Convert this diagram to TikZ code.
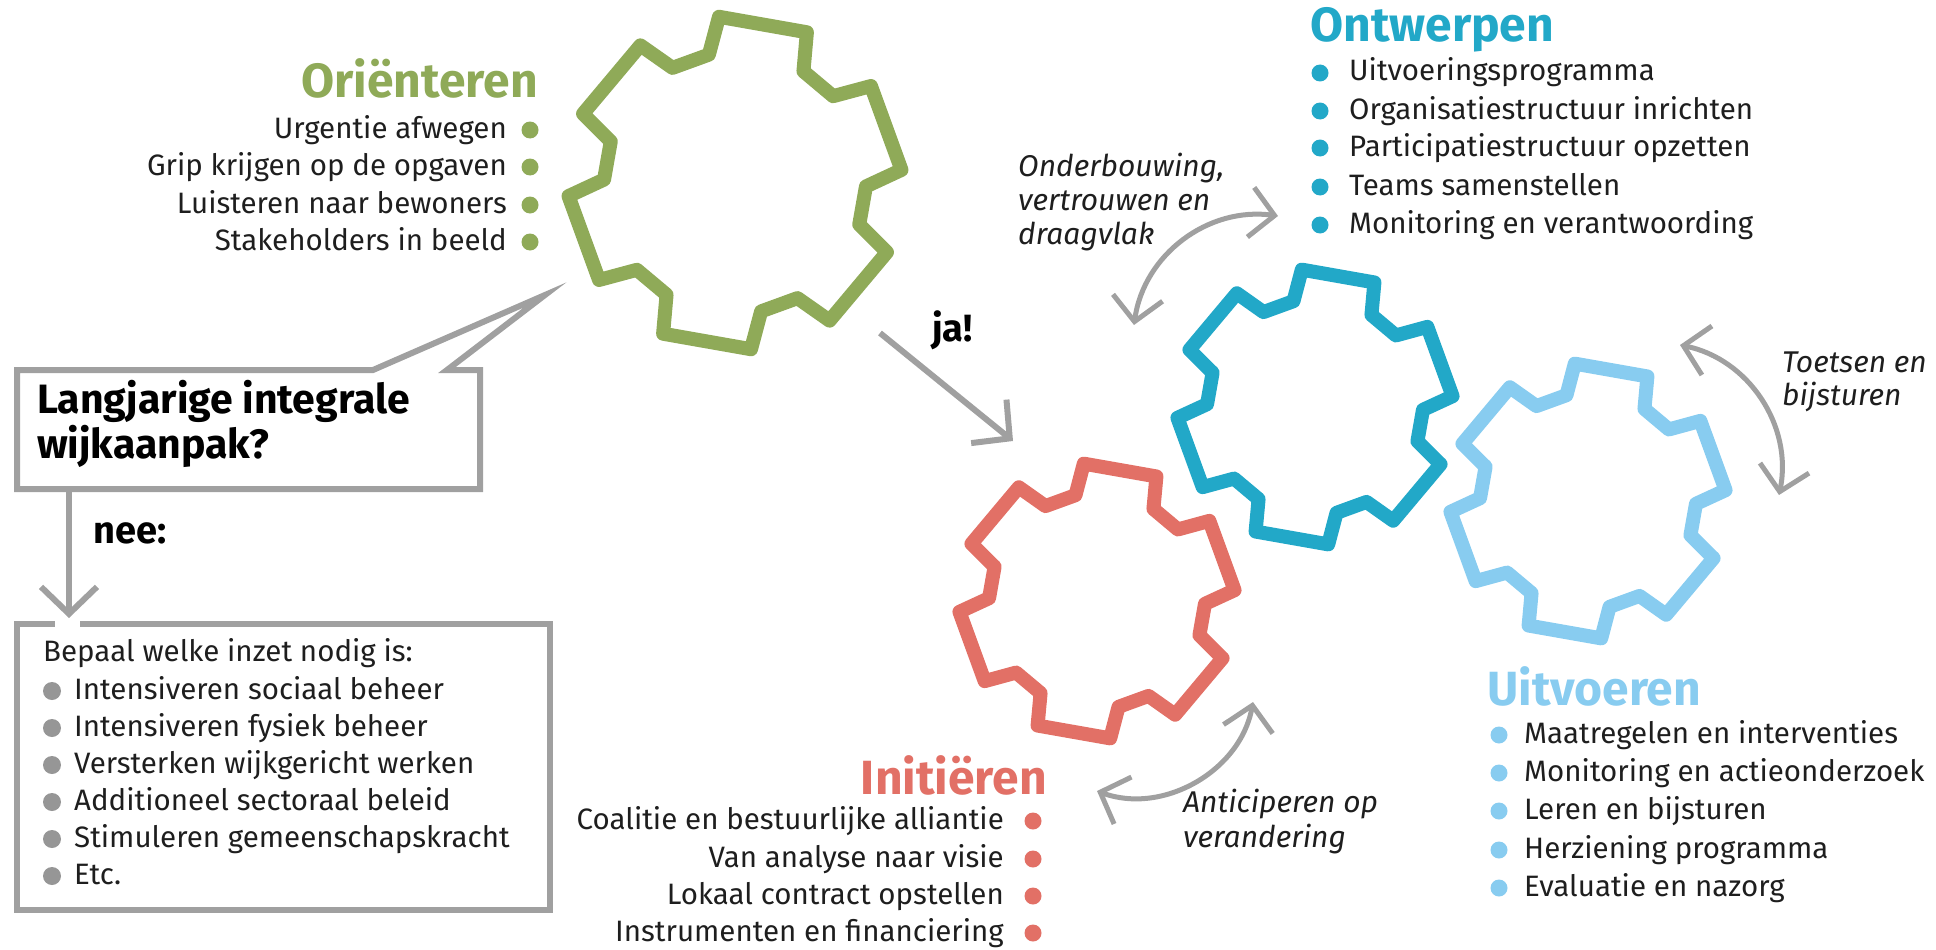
\documentclass[tikz,border=0pt]{standalone}
\usepackage{fontspec}
\setmainfont{Fira Sans}
\usetikzlibrary{calc,arrows.meta}
\definecolor{orgroen}{RGB}{143,170,88}
\definecolor{inrood}{RGB}{226,112,102}
\definecolor{ontblauw}{RGB}{34,168,200}
\definecolor{uitblauw}{RGB}{136,204,240}
\definecolor{pijlgrijs}{RGB}{160,160,160}
\definecolor{bolgrijs}{RGB}{150,150,150}
\definecolor{tekst}{RGB}{30,30,30}
\tikzset{
	tandlijn/.style={line width=14pt, line join=round},
	kader/.style={draw=pijlgrijs, line width=6pt},
	pijl/.style={draw=pijlgrijs, line width=6pt, -{Straight Barb[length=27pt,width=56pt]}},
	dubbelpijl/.style={draw=pijlgrijs, line width=5pt, {Straight Barb[length=24pt,width=50pt]}-{Straight Barb[length=24pt,width=50pt]}},
	kop/.style={inner sep=0pt, font=\fontsize{48}{52}\selectfont\bfseries},
	punt/.style={inner sep=0pt, text=tekst, font=\fontsize{29.5}{32}\selectfont},
	schuin/.style={inner sep=0pt, text=tekst, font=\fontsize{30}{32}\selectfont\itshape},
	vraag/.style={inner sep=0pt, text=black, font=\fontsize{41}{44}\selectfont\bfseries},
	vet/.style={inner sep=0pt, text=black, font=\fontsize{38}{42}\selectfont\bfseries},
}
\def\tandwiel[#1](#2)(#3:#4){\draw[#1] ($(#2)+(1.5:#4)$) \foreach \t in {40,100,...,340}{ -- ($(#2)+(\t-21.5:#4)$) -- ($(#2)+(\t-15.5:#3)$) -- ($(#2)+(\t+15.5:#3)$) -- ($(#2)+(\t+21.5:#4)$)} -- cycle;}

\begin{document}
\begin{tikzpicture}[x=1pt, y=-1pt]
	%%%%% START %%%%%
	\useasboundingbox (0,0) rectangle (1936,950);
	
	\tandwiel[tandlijn, draw=orgroen](735,183)(167:131)
	\tandwiel[tandlijn, draw=inrood](1097,601)(138:108)
	\tandwiel[tandlijn, draw=uitblauw](1588,501)(138:108)
	\tandwiel[tandlijn, draw=ontblauw](1315,407)(138:108)
	
	% orienteren
	\node[kop, text=orgroen, anchor=base east] (orikop) at (538,98) {Oriënteren};
	\node[punt, anchor=base east] (ori1) at (507,138) {Urgentie afwegen};
	\node[punt, anchor=base east] (ori2) at (507,175) {Grip krijgen op de opgaven};
	\node[punt, anchor=base east] (ori3) at (507,213) {Luisteren naar bewoners};
	\node[punt, anchor=base east] (ori4) at (507,250) {Stakeholders in beeld};
	\fill[orgroen] (530,130) circle (8.5pt);
	\fill[orgroen] (530,167) circle (8.5pt);
	\fill[orgroen] (530,205) circle (8.5pt);
	\fill[orgroen] (530,242) circle (8.5pt);
	
	% vraag
	\draw[kader] (17,370) -- (373,370) -- (545,295) -- (447,370) -- (480,370) -- (480,489) -- (17,489) -- cycle;
	\node[vraag, anchor=base west] (vraag1) at (37,413) {Langjarige integrale};
	\node[vraag, anchor=base west] (vraag2) at (37,458) {wijkaanpak?};
	
	\coordinate (neevan) at (69,489);
	\coordinate (neenaar) at (69,618);
	\draw[pijl] (neevan) -- (neenaar);
	\node[vet, anchor=base west] (nee) at (93,543) {nee:};
	
	\draw[kader] (80,624) -- (550,624) -- (550,910) -- (17,910) -- (17,624) -- (55,624);
	\node[punt, anchor=base west] (inzet) at (43,661) {Bepaal welke inzet nodig is:};
	\node[punt, anchor=base west] (inzet1) at (74,699) {Intensiveren sociaal beheer};
	\node[punt, anchor=base west] (inzet2) at (74,736) {Intensiveren fysiek beheer};
	\node[punt, anchor=base west] (inzet3) at (74,773) {Versterken wijkgericht werken};
	\node[punt, anchor=base west] (inzet4) at (74,810) {Additioneel sectoraal beleid};
	\node[punt, anchor=base west] (inzet5) at (74,847) {Stimuleren gemeenschapskracht};
	\node[punt, anchor=base west] (inzet6) at (74,884) {Etc.};
	\fill[bolgrijs] (52,691) circle (9pt);
	\fill[bolgrijs] (52,728) circle (9pt);
	\fill[bolgrijs] (52,765) circle (9pt);
	\fill[bolgrijs] (52,802) circle (9pt);
	\fill[bolgrijs] (52,839) circle (9pt);
	\fill[bolgrijs] (52,876) circle (9pt);
	
	% ja
	\coordinate (javan) at (880,333);
	\coordinate (janaar) at (1013,441);
	\draw[pijl] (javan) -- (janaar);
	\node[vet, anchor=base west] (ja) at (932,341) {ja!};
	
	% ontwerpen
	\node[kop, text=ontblauw, anchor=base west] (ontkop) at (1310,42) {Ontwerpen};
	\node[punt, anchor=base west] (ont1) at (1349,81) {Uitvoeringsprogramma};
	\node[punt, anchor=base west] (ont2) at (1349,119) {Organisatiestructuur inrichten};
	\node[punt, anchor=base west] (ont3) at (1349,156) {Participatiestructuur opzetten};
	\node[punt, anchor=base west] (ont4) at (1349,195) {Teams samenstellen};
	\node[punt, anchor=base west] (ont5) at (1349,233) {Monitoring en verantwoording};
	\fill[ontblauw] (1320,73) circle (8.5pt);
	\fill[ontblauw] (1320,111) circle (8.5pt);
	\fill[ontblauw] (1320,148) circle (8.5pt);
	\fill[ontblauw] (1320,187) circle (8.5pt);
	\fill[ontblauw] (1320,225) circle (8.5pt);
	
	% uitvoeren
	\node[kop, text=uitblauw, anchor=base west] (uitkop) at (1487,705) {Uitvoeren};
	\node[punt, anchor=base west] (uit1) at (1524,743) {Maatregelen en interventies};
	\node[punt, anchor=base west] (uit2) at (1524,781) {Monitoring en actieonderzoek};
	\node[punt, anchor=base west] (uit3) at (1524,819) {Leren en bijsturen};
	\node[punt, anchor=base west] (uit4) at (1524,858) {Herziening programma};
	\node[punt, anchor=base west] (uit5) at (1524,896) {Evaluatie en nazorg};
	\fill[uitblauw] (1499,735) circle (8.5pt);
	\fill[uitblauw] (1499,773) circle (8.5pt);
	\fill[uitblauw] (1499,811) circle (8.5pt);
	\fill[uitblauw] (1499,850) circle (8.5pt);
	\fill[uitblauw] (1499,888) circle (8.5pt);
	
	% initieren
	\node[kop, text=inrood, anchor=base east] (inikop) at (1047,794) {Initiëren};
	\node[punt, anchor=base east] (ini1) at (1004,829) {Coalitie en bestuurlijke alliantie};
	\node[punt, anchor=base east] (ini2) at (1004,867) {Van analyse naar visie};
	\node[punt, anchor=base east] (ini3) at (1004,904) {Lokaal contract opstellen};
	\node[punt, anchor=base east] (ini4) at (1004,941) {Instrumenten en financiering};
	\fill[inrood] (1033,821) circle (8.5pt);
	\fill[inrood] (1033,859) circle (8.5pt);
	\fill[inrood] (1033,896) circle (8.5pt);
	\fill[inrood] (1033,933) circle (8.5pt);
	
	% dubbele pijlen
	\coordinate (ond1) at (1134,325);
	\coordinate (ond2) at (1278,216);
	\draw[dubbelpijl] (ond1) to[bend left=45] (ond2);
	\node[schuin, anchor=base west] (onda) at (1018,176) {Onderbouwing,};
	\node[schuin, anchor=base west] (ondb) at (1018,210) {vertrouwen en};
	\node[schuin, anchor=base west] (ondc) at (1018,244) {draagvlak};
	
	\coordinate (toe1) at (1680,345);
	\coordinate (toe2) at (1779,495);
	\draw[dubbelpijl] (toe1) to[bend left=45] (toe2);
	\node[schuin, anchor=base west] (toea) at (1782,372) {Toetsen en};
	\node[schuin, anchor=base west] (toeb) at (1782,405) {bijsturen};
	
	\coordinate (ant1) at (1097,791);
	\coordinate (ant2) at (1253,702);
	\draw[dubbelpijl] (ant1) to[bend right=50] (ant2);
	\node[schuin, anchor=base west] (anta) at (1183,812) {Anticiperen op};
	\node[schuin, anchor=base west] (antb) at (1183,847) {verandering};
	
	%%%%% END %%%%%
\end{tikzpicture}
\end{document}
